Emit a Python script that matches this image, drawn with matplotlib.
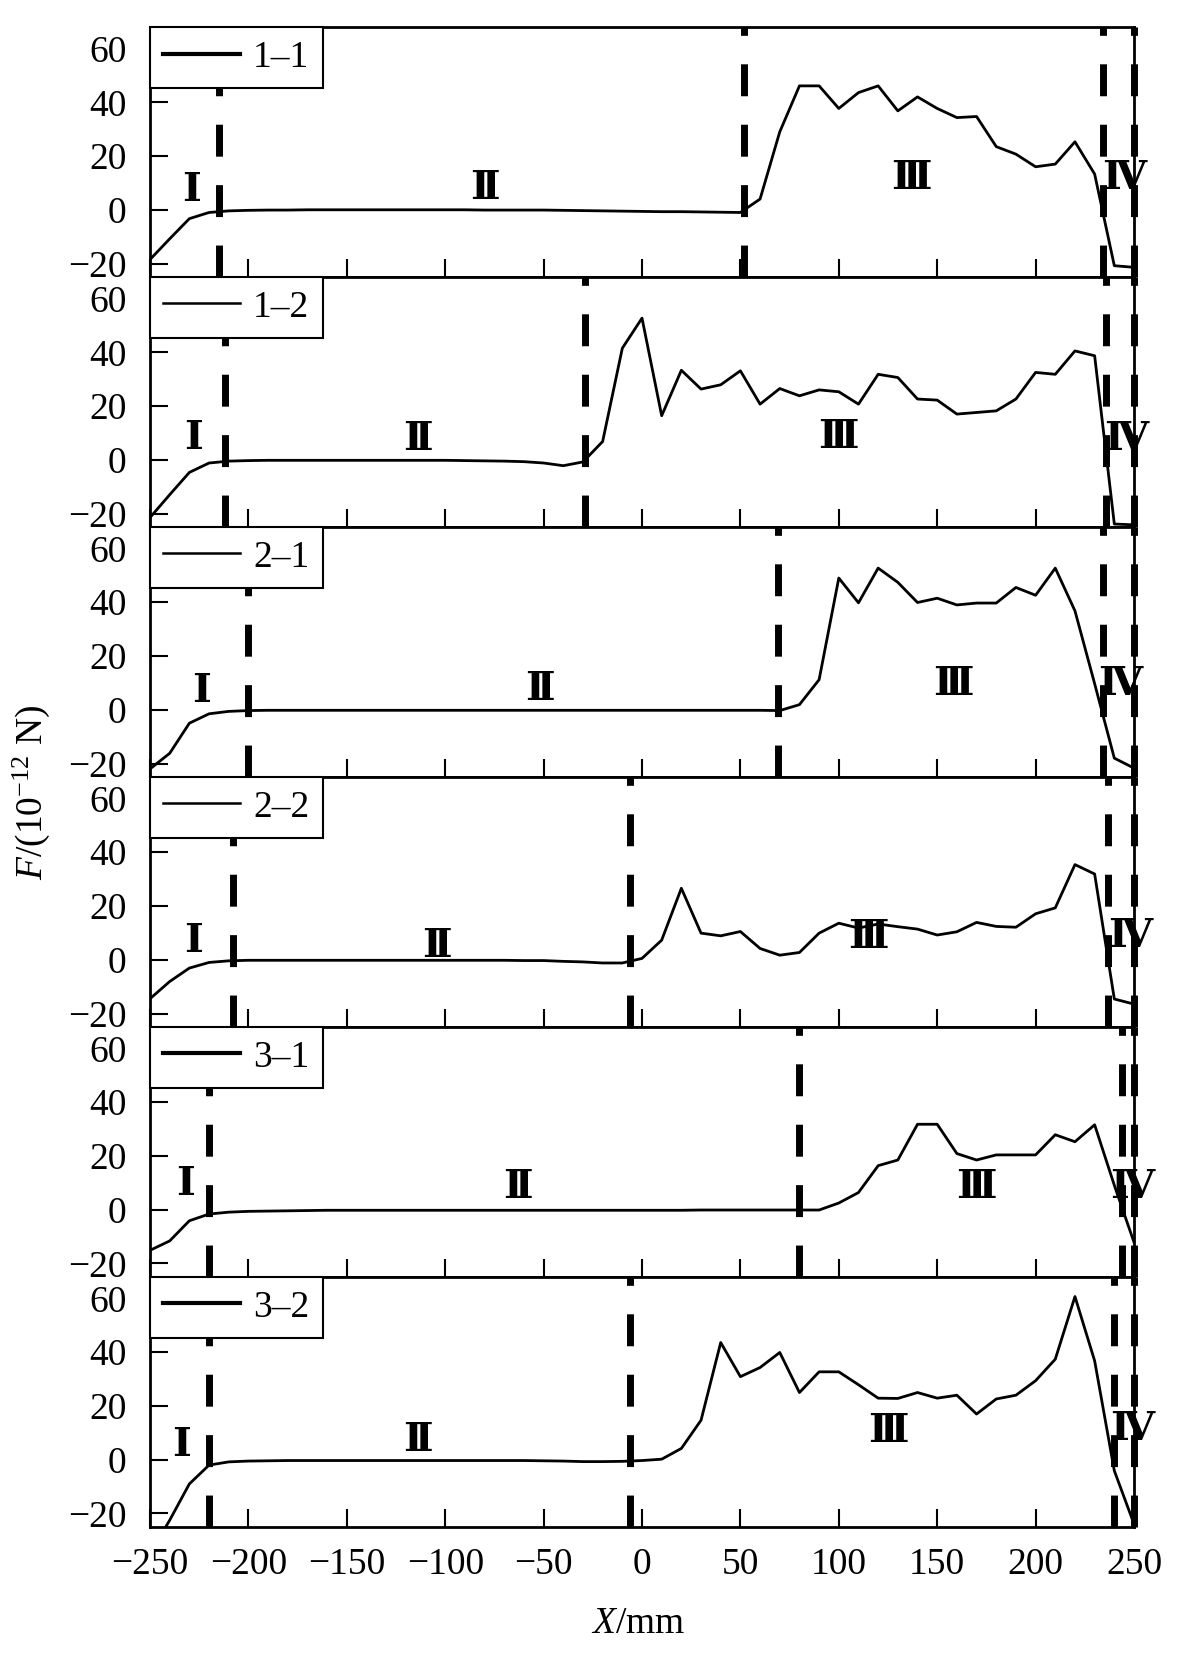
import matplotlib
matplotlib.use('Agg')
import matplotlib.pyplot as plt

plt.rcParams['font.family'] = ['Liberation Serif', 'DejaVu Serif']
plt.rcParams['mathtext.fontset'] = 'custom'
plt.rcParams['mathtext.rm'] = 'Liberation Serif'
plt.rcParams['mathtext.it'] = 'Liberation Serif:italic'

# sampling positions along X (mm)
x_mm = [-250, -240, -230, -220, -210, -200, -190, -180, -170, -160,
        -150, -140, -130, -120, -110, -100, -90, -80, -70, -60,
        -50, -40, -30, -20, -10, 0, 10, 20, 30, 40,
        50, 60, 70, 80, 90, 100, 110, 120, 130, 140,
        150, 160, 170, 180, 190, 200, 210, 220, 230, 240, 250]

# force F (10^-12 N) for each case
f_1_1 = [-18.5, -10.8, -3.3, -1.0, -0.4, -0.2, -0.1, -0.1, 0.0, 0.0,
         0.0, 0.0, 0.0, 0.0, 0.0, 0.0, 0.0, -0.1, -0.1, -0.1,
         -0.1, -0.2, -0.3, -0.4, -0.5, -0.6, -0.7, -0.7, -0.8, -0.9,
         -1.0, 4.0, 29.0, 46.1, 46.1, 37.7, 43.6, 46.1, 36.8, 42.0,
         37.7, 34.3, 34.7, 23.5, 20.7, 16.0, 17.0, 25.3, 13.3, -20.8, -21.4]
f_1_2 = [-21.5, -13.0, -4.7, -1.2, -0.5, -0.3, -0.2, -0.2, -0.2, -0.2,
         -0.2, -0.2, -0.2, -0.2, -0.2, -0.2, -0.3, -0.4, -0.5, -0.7,
         -1.2, -2.2, -0.8, 6.8, 41.5, 52.7, 16.4, 33.3, 26.3, 27.9,
         33.1, 20.7, 26.5, 23.8, 26.0, 25.3, 20.7, 31.8, 30.6, 22.6,
         22.2, 17.0, 17.6, 18.2, 22.6, 32.5, 31.8, 40.5, 38.7, -23.9, -24.2]
f_2_1 = [-22.0, -16.2, -5.0, -1.5, -0.6, -0.3, -0.2, -0.2, -0.2, -0.2,
         -0.2, -0.2, -0.2, -0.2, -0.2, -0.2, -0.2, -0.2, -0.2, -0.2,
         -0.2, -0.2, -0.2, -0.2, -0.2, -0.2, -0.2, -0.2, -0.2, -0.2,
         -0.2, -0.2, -0.3, 1.9, 11.2, 49.0, 39.8, 52.7, 47.4, 39.9,
         41.5, 39.0, 39.7, 39.7, 45.5, 42.6, 52.7, 36.8, 9.7, -18.0, -21.7]
f_2_2 = [-14.5, -8.1, -3.1, -1.0, -0.4, -0.2, -0.2, -0.2, -0.2, -0.2,
         -0.2, -0.2, -0.2, -0.2, -0.2, -0.2, -0.2, -0.2, -0.2, -0.3,
         -0.3, -0.6, -0.8, -1.2, -1.2, 0.5, 7.3, 26.6, 9.9, 8.9,
         10.5, 4.2, 1.7, 2.7, 9.9, 13.6, 11.8, 13.3, 12.3, 11.4,
         9.2, 10.4, 13.9, 12.4, 12.1, 17.1, 19.3, 35.4, 31.9, -14.6, -16.5]
f_3_1 = [-15.1, -11.6, -4.1, -1.6, -0.9, -0.6, -0.5, -0.4, -0.3, -0.2,
         -0.2, -0.2, -0.2, -0.2, -0.2, -0.2, -0.2, -0.2, -0.2, -0.2,
         -0.2, -0.2, -0.2, -0.2, -0.2, -0.2, -0.2, -0.2, -0.1, -0.1,
         -0.1, -0.1, -0.1, -0.1, -0.1, 2.5, 6.4, 16.4, 18.5, 31.8,
         31.8, 20.9, 18.5, 20.4, 20.4, 20.4, 27.9, 25.3, 31.6, 9.1, -12.1]
f_3_2 = [-35.0, -22.5, -9.0, -2.0, -0.8, -0.5, -0.4, -0.3, -0.3, -0.3,
         -0.3, -0.3, -0.3, -0.3, -0.3, -0.3, -0.3, -0.3, -0.3, -0.3,
         -0.4, -0.5, -0.7, -0.7, -0.6, -0.3, 0.2, 4.2, 14.7, 43.6,
         30.9, 34.3, 39.9, 25.0, 32.7, 32.7, 27.9, 22.9, 22.8, 25.0,
         22.9, 24.0, 17.0, 22.6, 24.0, 29.4, 37.4, 60.7, 36.8, -4.1, -23.9]

series = [f_1_1, f_1_2, f_2_1, f_2_2, f_3_1, f_3_2]
names = ['1\u20131', '1\u20132', '2\u20131', '2\u20132', '3\u20131', '3\u20132']
legend_lw = [3.0, 1.8, 1.8, 1.8, 3.0, 3.0]

# stage boundaries (dashed lines), X in mm
bounds = [[-215, 52, 234, 249.8],
          [-212, -29, 236, 249.8],
          [-200, 69, 234, 249.8],
          [-208, -6, 237, 249.8],
          [-220, 80, 244, 249.8],
          [-220, -6, 240, 249.8]]

# stage labels
stage_names = ['\u2160', '\u2161', '\u2162', '\u2163']
stage_pos = [[(-229, 7.5), (-80, 8.0), (137, 12.0), (245, 12.0)],
             [(-228, 8.0), (-114, 7.7), (100, 8.3), (246, 7.7)],
             [(-224, 7.1), (-52, 7.9), (158, 9.5), (243, 9.5)],
             [(-228, 6.8), (-104, 5.2), (115, 8.3), (248, 8.9)],
             [(-232, 9.4), (-63, 8.5), (170, 8.3), (249, 8.3)],
             [(-234, 5.6), (-114, 7.2), (125, 10.8), (249, 11.4)]]

fig = plt.figure(figsize=(12, 16.57), dpi=100)
axes = fig.subplots(6, 1, sharex=True, gridspec_kw=dict(hspace=0))
fig.subplots_adjust(left=0.125, right=0.945, top=0.9837, bottom=0.0785)

for i, ax in enumerate(axes):
    ax.plot(x_mm, series[i], color='k', lw=2, label=names[i])
    for b in bounds[i]:
        ax.axvline(b, color='k', lw=5, linestyle=(0, (4.6, 4.1)), clip_on=False)
    for s, (px, py) in zip(stage_names, stage_pos[i]):
        ax.text(px, py, s, ha='center', va='center', fontsize=29,
                fontweight='bold', family=['DejaVu Serif', 'Liberation Serif'])

    ax.set_xlim(-250, 250)
    ax.set_ylim(-25, 68)
    ax.set_yticks([-20, 0, 20, 40, 60])
    ax.set_xticks(range(-250, 251, 50))
    ax.tick_params(direction='in', length=13, width=1.5, labelsize=27,
                   top=False, right=False)
    ax.tick_params(axis='y', pad=17)
    ax.tick_params(axis='x', pad=15)
    for sp in ax.spines.values():
        sp.set_linewidth(2)

    leg = ax.legend(loc='upper left', bbox_to_anchor=(0, 1), borderaxespad=0,
                    fancybox=False, framealpha=1, edgecolor='k', fontsize=27,
                    handlelength=2.05, handletextpad=0.35, borderpad=0.35)
    leg.get_frame().set_linewidth(1.5)
    leg.get_lines()[0].set_linewidth(legend_lw[i])

fig.text(31 / 1200, 1 - 792 / 1657, r'$F$/(10$^{-12}$ N)', rotation=90,
         ha='center', va='center', fontsize=27)
fig.text(638 / 1200, 1 - 1624 / 1657, r'$X$/mm', ha='center', va='center',
         fontsize=27)

fig.savefig('out.png', dpi=100)
